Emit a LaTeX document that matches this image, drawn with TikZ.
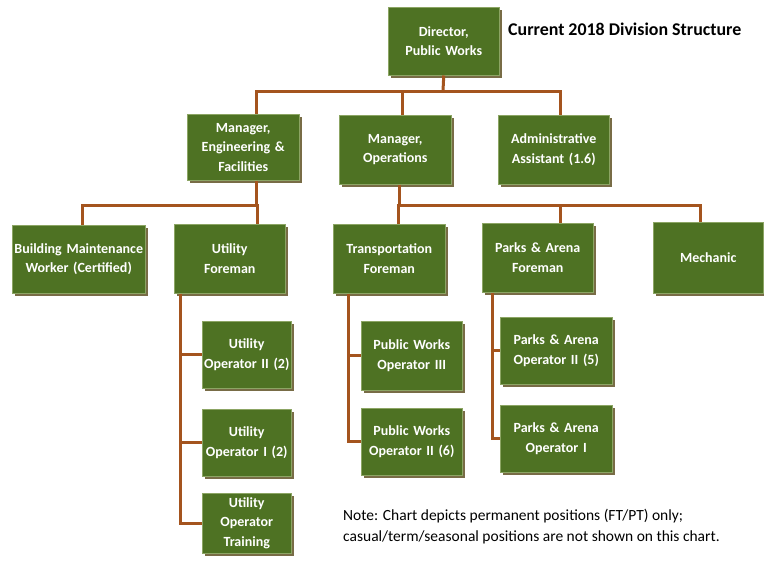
\documentclass[tikz,border=0pt]{standalone}
\usepackage{fontspec}
\setmainfont{Carlito}
\usetikzlibrary{shadows}
\definecolor{boxgreen}{RGB}{78,114,35}
\definecolor{boxedge}{RGB}{140,165,100}
\definecolor{boxshadow}{RGB}{120,108,70}
\definecolor{linkbrown}{RGB}{164,84,30}
\tikzset{
  orgbox/.style={anchor=north west, fill=boxgreen, draw=boxedge, line width=0.5pt,
    text=white, font=\bfseries\fontsize{14}{19.5}\selectfont, align=center,
    inner sep=1pt,
    general shadow={fill=boxshadow, shadow xshift=2.5pt, shadow yshift=-2.5pt}},
  link/.style={draw=linkbrown, line width=3pt}
}
\newcommand{\orgbox}[6]{% name, left, top, width, height, text
  \node[orgbox, minimum width=#4pt, minimum height=#5pt, text width=#4pt-2pt] (#1) at (#2,#3) {#6};}
\begin{document}
\begin{tikzpicture}[x=1pt,y=-1pt]
\useasboundingbox (0,0) rectangle (764,563);

% positions
\orgbox{dir}{388}{7}{111}{68}{Director,\\Public Works}
\orgbox{mgreng}{187}{114}{112}{66}{Manager,\\Engineering \&\\Facilities}
\orgbox{mgrops}{339}{115}{112}{69}{Manager,\\Operations}
\orgbox{admin}{498}{115}{111}{69}{Administrative\\Assistant (1.6)}
\orgbox{bmw}{12}{225}{133}{68}{Building Maintenance\\Worker (Certified)}
\orgbox{utilf}{174}{224}{111}{69}{Utility\\Foreman}
\orgbox{transf}{333}{224}{112}{69}{Transportation\\Foreman}
\orgbox{parksf}{482}{223}{111}{69}{Parks \& Arena\\Foreman}
\orgbox{mech}{653}{222}{110}{71}{Mechanic}
\orgbox{uopii}{202}{321}{89}{67}{Utility\\Operator II (2)}
\orgbox{uopi}{202}{409}{89}{67}{Utility\\Operator I (2)}
\orgbox{uopt}{202}{493}{89}{60}{Utility\\Operator\\Training}
\orgbox{pwiii}{361}{321}{101}{69}{Public Works\\Operator III}
\orgbox{pwii}{361}{408}{101}{67}{Public Works\\Operator II (6)}
\orgbox{paii}{500}{317}{112}{67}{Parks \& Arena\\Operator II (5)}
\orgbox{pai}{500}{405}{112}{67}{Parks \& Arena\\Operator I}

% connectors
\coordinate (busA) at (443,91);
\draw[link] (dir.south) -- (busA);
\draw[link] ([xshift=69pt]mgreng.north west) |- (busA) -| ([xshift=62pt]admin.north west);
\draw[link] ([xshift=63pt]mgrops.north west) -- ([xshift=63pt]mgrops.north west |- busA);

\coordinate (busB) at (256,205);
\draw[link] ([xshift=69pt]mgreng.south west) -- (busB);
\draw[link] ([xshift=70pt]bmw.north west) |- (busB) -| ([xshift=83pt]utilf.north west);

\coordinate (busC) at (399,205);
\draw[link] ([xshift=60pt]mgrops.south west) -- (busC);
\draw[link] ([xshift=65pt]transf.north west) |- (busC) -| ([xshift=47pt]mech.north west);
\draw[link] ([xshift=78pt]parksf.north west) -- ([xshift=78pt]parksf.north west |- busC);

\draw[link] ([xshift=6pt]utilf.south west) |- (uopt.west);
\draw[link] ([xshift=6pt]utilf.south west |- uopii.west) -- (uopii.west);
\draw[link] ([xshift=6pt]utilf.south west |- uopi.west) -- (uopi.west);

\draw[link] ([xshift=15pt]transf.south west) |- (pwii.west);
\draw[link] ([xshift=15pt]transf.south west |- pwiii.west) -- (pwiii.west);

\draw[link] ([xshift=10pt]parksf.south west) |- (pai.west);
\draw[link] ([xshift=10pt]parksf.south west |- paii.west) -- (paii.west);

% title and note
\node[anchor=west, font=\bfseries\fontsize{17.9}{20}\selectfont, inner sep=0pt] (title) at (508,29) {Current 2018 Division Structure};
\node[anchor=north west, align=left, font=\fontsize{15.5}{21}\selectfont, inner sep=0pt] (note) at (343,509)
  {Note: Chart depicts permanent positions (FT/PT) only;\\casual/term/seasonal positions are not shown on this chart.};
\end{tikzpicture}
\end{document}
